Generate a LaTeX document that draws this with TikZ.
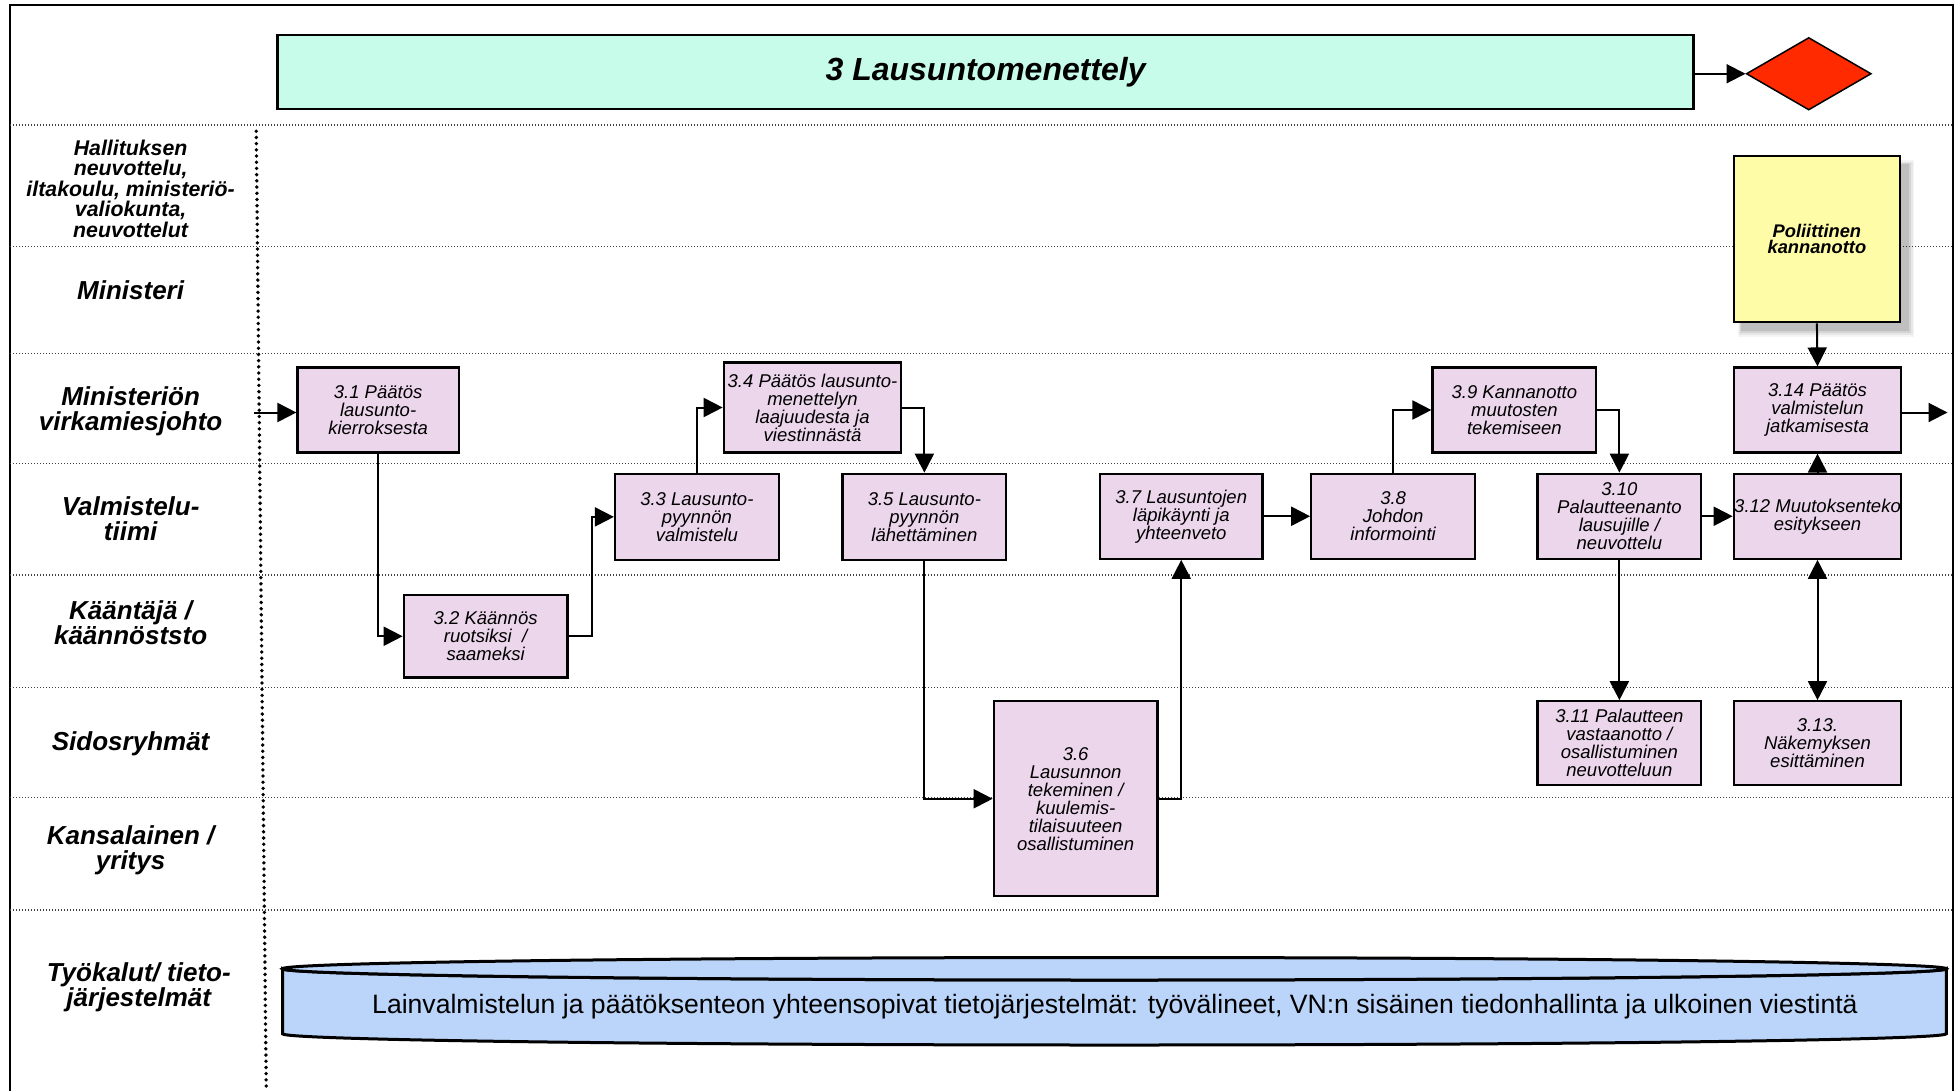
\documentclass[tikz,border=0pt]{standalone}
\usepackage{fontspec}
\setmainfont{Liberation Sans}
\usetikzlibrary{arrows.meta,shapes.geometric}
\definecolor{boxpink}{HTML}{ECD6EB}
\definecolor{mint}{HTML}{C8FCEA}
\definecolor{ylw}{HTML}{FFFCA8}
\definecolor{cylblue}{HTML}{BBD5FA}
\definecolor{dred}{HTML}{FF2A00}
\begin{document}
\begin{tikzpicture}[x=1.25pt,y=-1.25pt,
  proc/.style={draw=black, line width=2.2pt, fill=boxpink, align=center, inner sep=0pt,
    font=\itshape\fontsize{18.5}{18}\selectfont},
  lane/.style={align=center, inner sep=0pt, font=\bfseries\itshape\fontsize{26}{25}\selectfont},
  arr/.style={line width=2pt, -{Triangle[length=19pt,width=19pt]}},
  darr/.style={line width=2pt, {Triangle[length=19pt,width=19pt]}-{Triangle[length=19pt,width=19pt]}},
  hdot/.style={line width=1.2pt, black!75, dash pattern=on 1.2pt off 1.8pt},
  vdot/.style={line width=3.8pt, line cap=round, dash pattern=on 0pt off 6.2pt},
]
\useasboundingbox (0,0) rectangle (1567.2,872);
% frame
\draw[line width=2pt] (8,880) -- (8,4) -- (1562,4) -- (1562,880);
% lane separators
\foreach \yy in {100,197,283,371,460,550,638,728}
  \draw[hdot] (8,\yy) -- (1562,\yy);
\draw[vdot] (205,105) -- (213,872);

% lane labels
\node[lane, font=\bfseries\itshape\fontsize{21.3}{20.6}\selectfont] (l1) at (104.5,151) {Hallituksen\\neuvottelu,\\iltakoulu, ministeriö-\\valiokunta,\\neuvottelut};
\node[lane] (l2) at (104.5,232) {Ministeri};
\node[lane] (l3) at (104.5,329) {Ministeriön\\virkamiesjohto};
\node[lane] (l4) at (104.5,415) {Valmistelu-\\tiimi};
\node[lane] (l5) at (104.5,498.5) {Kääntäjä /\\käännöststo};
\node[lane] (l6) at (104.5,595) {Sidosryhmät};
\node[lane] (l7) at (104.5,680) {Kansalainen /\\yritys};
\node[lane] (l8) at (111,789.5) {Työkalut/ tieto-\\järjestelmät};

% title
\node[draw=black, line width=2.6pt, fill=mint, minimum width=1416pt, minimum height=74pt, inner sep=0pt,
  font=\bfseries\itshape\fontsize{32}{34}\selectfont] (title) at (788.5,57.5) {3 Lausuntomenettely};
\node[diamond, draw=black, line width=1.5pt, fill=dred, minimum width=125pt, minimum height=72.5pt, inner sep=0pt] (dia) at (1447,59) {};
\draw[arr] (title.east |- dia.west) -- (dia.west);

% yellow box with shadow
\foreach \k/\o in {0/0.10,3/0.08,6/0.06,9/0.04}
  \fill[black, opacity=\o] (1393-\k*0.3,131-\k*0.3) rectangle (1527+\k*0.5,265+\k*0.5);
\node[draw=black, line width=2.2pt, fill=ylw, minimum width=166pt, minimum height=166pt, inner sep=0pt, align=center,
  font=\bfseries\itshape\fontsize{18.3}{16}\selectfont] (pol) at (1453.5,191.5) {Poliittinen\\kannanotto};

% process boxes
\node[proc, minimum width=161.25pt, minimum height=85pt] (b31) at (302.5,328) {3.1 Päätös\\lausunto-\\kierroksesta};
\node[proc, minimum width=163.75pt, minimum height=82.5pt] (b32) at (388.5,509) {3.2 Käännös\\ruotsiksi~~/\\saameksi};
\node[proc, minimum width=163.75pt, minimum height=86.25pt] (b33) at (557.5,413.5) {3.3 Lausunto-\\pyynnön\\valmistelu};
\node[proc, minimum width=177.5pt, minimum height=90pt] (b34) at (650,326) {3.4 Päätös lausunto-\\menettelyn\\laajuudesta ja\\viestinnästä};
\node[proc, minimum width=163.75pt, minimum height=86.25pt] (b35) at (739.5,413.5) {3.5 Lausunto-\\pyynnön\\lähettäminen};
\node[proc, minimum width=163.75pt, minimum height=195pt] (b36) at (860.5,639) {3.6\\Lausunnon\\tekeminen /\\kuulemis-\\tilaisuuteen\\osallistuminen};
\node[proc, minimum width=162.5pt, minimum height=85pt] (b37) at (945,413) {3.7 Lausuntojen\\läpikäynti ja\\yhteenveto};
\node[proc, minimum width=163.75pt, minimum height=85pt] (b38) at (1114.5,413) {3.8\\Johdon\\informointi};
\node[proc, minimum width=163.75pt, minimum height=85pt] (b39) at (1211.5,328) {3.9 Kannanotto\\muutosten\\tekemiseen};
\node[proc, minimum width=163.75pt, minimum height=85pt] (b310) at (1295.5,413) {3.10\\Palautteenanto\\lausujille /\\neuvottelu};
\node[proc, minimum width=163.75pt, minimum height=83.75pt] (b311) at (1295.5,594.5) {3.11 Palautteen\\vastaanotto /\\osallistuminen\\neuvotteluun};
\node[proc, minimum width=167.5pt, minimum height=85pt] (b312) at (1454,413) {3.12 Muutoksenteko\\esitykseen};
\node[proc, minimum width=167.5pt, minimum height=83.75pt] (b313) at (1454,594.5) {3.13.\\Näkemyksen\\esittäminen};
\node[proc, minimum width=167.5pt, minimum height=85pt] (b314) at (1454,328) {3.14 Päätös\\valmistelun\\jatkamisesta};

% connectors
\coordinate (in) at (203,330);
\coordinate (out) at (1558,330);
\draw[arr] (in) -- (in -| b31.west);
\draw[arr] (b31.south) |- (b32.west);
\draw[arr] (b32.east) -- ++(19,0) |- (b33.west);
\draw[arr] (b33.north) |- (b34.west);
\draw[arr] (b34.east) -| (b35.north);
\draw[arr] (b35.south) |- (b36.west);
\draw[arr] (b36.east) -| (b37.south);
\draw[arr] (b37.east) -- (b38.west);
\draw[arr] (b38.north) |- (b39.west);
\draw[arr] (b39.east) -| (b310.north);
\draw[arr] (b310.east) -- (b312.west);
\draw[arr] (b310.south) -- (b311.north);
\draw[arr] (b312.north) -- (b314.south);
\draw[darr] (b312.south) -- (b313.north);
\draw[arr] (pol.south) -- (b314.north);
\draw[arr] (out -| b314.east) -- (out);

% database cylinder
\draw[line width=3pt, fill=cylblue] (226,775) -- (226,827)
  arc[start angle=180, end angle=360, x radius=831.875pt, y radius=11.25pt]
  -- (1557,775)
  arc[start angle=0, end angle=-180, x radius=831.875pt, y radius=11.25pt] -- cycle;
\draw[line width=3pt, fill=cylblue] (891.5,775) ellipse[x radius=831.875pt, y radius=11.25pt];
\node[inner sep=0pt, font=\fontsize{26.6}{28}\selectfont] (db) at (892,805) {Lainvalmistelun ja päätöksenteon yhteensopivat tietojärjestelmät: työvälineet, VN:n sisäinen tiedonhallinta ja ulkoinen viestintä};
\end{tikzpicture}
\end{document}
